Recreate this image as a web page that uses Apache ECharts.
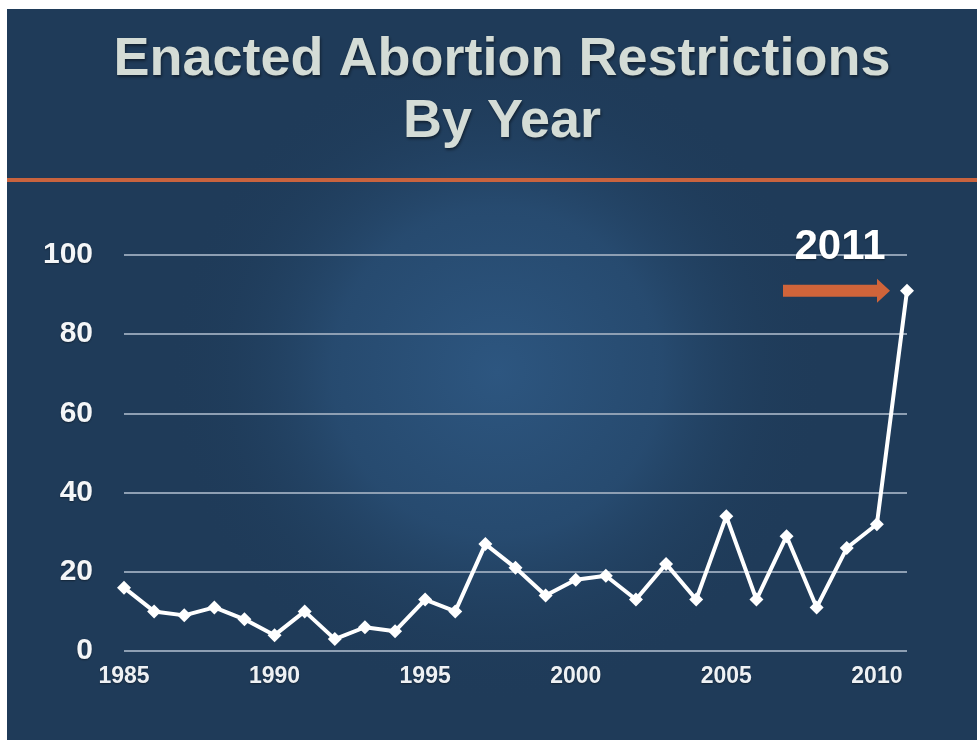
<!DOCTYPE html>
<html>
<head>
<meta charset="utf-8">
<style>
  html, body { margin: 0; padding: 0; background: #ffffff; }
  #chart { width: 977px; height: 740px; }
</style>
<script src="https://cdn.jsdelivr.net/npm/echarts@6/dist/echarts.min.js"></script>
</head>
<body>
<div id="chart"></div>
<script>
const titleText = "Enacted Abortion Restrictions\nBy Year";
const years = ["1985","1986","1987","1988","1989","1990","1991","1992","1993","1994","1995","1996","1997","1998","1999","2000","2001","2002","2003","2004","2005","2006","2007","2008","2009","2010","2011"];
const restrictions = [16, 10, 9, 11, 8, 4, 10, 3, 6, 5, 13, 10, 27, 21, 14, 18, 19, 13, 22, 13, 34, 13, 29, 11, 26, 32, 91];
const yTicks = [0, 20, 40, 60, 80, 100];
const highlightYear = "2011";

const FONT = "'Liberation Sans', Arial, Helvetica, sans-serif";
const chart = echarts.init(document.getElementById('chart'), null, { renderer: 'canvas' });

const bgGraphics = [
  { type: 'rect', z: -100, silent: true, shape: { x: 7, y: 9, width: 970, height: 731 }, style: { fill: '#1f3b59' } },
  { type: 'circle', z: -99, silent: true, shape: { cx: 497, cy: 372, r: 330 },
    style: { fill: { type: 'radial', x: 0.5, y: 0.5, r: 0.5, colorStops: [
      { offset: 0, color: 'rgba(45,86,128,1)' },
      { offset: 0.5, color: 'rgba(40,77,115,0.85)' },
      { offset: 0.82, color: 'rgba(33,64,96,0.35)' },
      { offset: 1, color: 'rgba(31,59,89,0)' } ] } } },
  { type: 'rect', z: -98, silent: true, shape: { x: 7, y: 178, width: 970, height: 4 }, style: { fill: '#c9633e' } }
];

chart.setOption({
  animation: false,
  backgroundColor: '#ffffff',
  title: {
    text: titleText,
    left: 497,
    top: 24,
    textAlign: 'center',
    textStyle: {
      fontFamily: FONT, fontSize: 54, fontWeight: 'bold', lineHeight: 62,
      color: '#d4dcd6',
      textShadowColor: 'rgba(0,0,0,0.45)', textShadowBlur: 3, textShadowOffsetX: 1, textShadowOffsetY: 2
    }
  },
  grid: { left: 124, right: 70, top: 255, bottom: 89, containLabel: false },
  xAxis: {
    type: 'category',
    data: years,
    boundaryGap: false,
    axisLine: { show: false },
    axisTick: { show: false },
    splitLine: { show: false },
    axisLabel: {
      interval: 4, margin: 14,
      fontFamily: FONT, fontSize: 23, fontWeight: 'bold', color: '#eef1f4',
      textShadowColor: 'rgba(0,0,0,0.4)', textShadowBlur: 2, textShadowOffsetY: 1
    }
  },
  yAxis: {
    type: 'value',
    min: yTicks[0],
    max: yTicks[yTicks.length - 1],
    interval: yTicks[1] - yTicks[0],
    axisLine: { show: false },
    axisTick: { show: false },
    splitLine: { show: true, lineStyle: { color: '#8e9fb3', width: 2 } },
    axisLabel: {
      margin: 31,
      fontFamily: FONT, fontSize: 30, fontWeight: 'bold', color: '#f4f6f8',
      textShadowColor: 'rgba(0,0,0,0.4)', textShadowBlur: 2, textShadowOffsetY: 1
    }
  },
  series: [{
    type: 'line',
    data: restrictions,
    symbol: 'diamond',
    symbolSize: 14,
    showAllSymbol: true,
    lineStyle: { color: '#ffffff', width: 4 },
    itemStyle: { color: '#ffffff' },
    z: 5
  }],
  graphic: bgGraphics
});

// annotation placed relative to the 2011 data point
const idx = years.indexOf(highlightYear);
const pt = chart.convertToPixel({ gridIndex: 0 }, [idx, restrictions[idx]]);
const ax = pt[0], ay = pt[1];
const arrowTip = ax - 17, shaftStart = ax - 124, headStart = ax - 30;
chart.setOption({
  graphic: bgGraphics.concat([
    { type: 'polygon', z: 50, silent: true,
      shape: { points: [
        [shaftStart, ay - 6], [headStart, ay - 6], [headStart, ay - 12],
        [arrowTip, ay], [headStart, ay + 12], [headStart, ay + 6], [shaftStart, ay + 6] ] },
      style: { fill: '#d0643a' } },
    { type: 'text', z: 50, silent: true, x: ax - 67, y: ay - 22,
      style: { text: highlightYear, fontFamily: FONT, fontSize: 42, fontWeight: 'bold',
        fill: '#ffffff', align: 'center', verticalAlign: 'bottom',
        textShadowColor: 'rgba(0,0,0,0.4)', textShadowBlur: 2, textShadowOffsetY: 1 } }
  ])
});
</script>
</body>
</html>
